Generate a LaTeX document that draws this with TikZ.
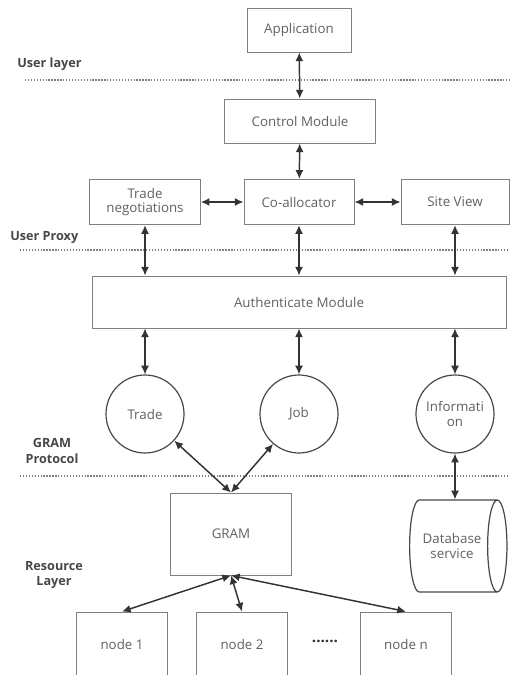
\documentclass[tikz,border=0pt]{standalone}
\usepackage{fontspec}
\setmainfont{Open Sans}
\usetikzlibrary{arrows.meta,shapes.geometric,positioning}
\definecolor{boxgray}{HTML}{808080}
\definecolor{txtgray}{HTML}{606060}
\definecolor{arrgray}{HTML}{333333}
\tikzset{line/.style={draw=arrgray, line width=1.1pt, {Latex[length=6.5pt,width=6pt]}-{Latex[length=6.5pt,width=6pt]}}}

\begin{document}
\begin{tikzpicture}[x=0.75pt, y=-0.75pt, font=\fontsize{10}{11}\selectfont]
\tikzstyle{block} = [rectangle, draw=boxgray, line width=0.7pt, text=txtgray, align=center, inner sep=1pt]
\tikzstyle{proto} = [circle, draw=arrgray!90, line width=0.9pt, text=txtgray, align=center, minimum size=58.5pt, inner sep=1pt]
\tikzstyle{layer} = [font=\fontsize{9.5}{11.5}\selectfont\bfseries, text=arrgray!90, align=center, inner sep=0pt]
\tikzstyle{sep} = [draw=boxgray, line width=0.9pt, dash pattern=on 1pt off 1.2pt]

\useasboundingbox (0,0) rectangle (510,675);

% layer separators
\path [sep] (25,80) -- (510,80);
\path [sep] (20,250) -- (510,250);
\path [sep] (20,476) -- (510,476);

\node [layer, anchor=west] (userlayer) at (17,64) {User layer};
\node [layer, anchor=west] (userproxy) at (10,237) {User Proxy};
\node [layer] (gramproto) at (52,451) {GRAM\\Protocol};
\node [layer] (reslayer) at (54,575) {Resource\\Layer};

% user side
\node [block, minimum width=78pt, minimum height=33pt] (app) at (299,30) {Application};
\node [block, minimum width=113pt, minimum height=33pt] (control) at (300,121) {Control Module};
\node [block, minimum width=82.5pt, minimum height=34pt] (coalloc) at (299,202) {Co-allocator};
\node [block, minimum width=83pt, minimum height=34pt] (tradeneg) at (145,202) {Trade\\negotiations};
\node [block, minimum width=81pt, minimum height=34pt] (siteview) at (455,202) {Site View};
\node [block, minimum width=310.5pt, minimum height=39pt] (auth) at (299,302) {Authenticate Module};

% protocols
\node [proto] (trade) at (145,414) {Trade};
\node [proto] (job) at (299,414) {Job};
\node [proto] (info) at (455,414) {Informati\\on};

% resources
\node [block, minimum width=91pt, minimum height=61.5pt] (gram) at (231,534) {GRAM};
\node [cylinder, draw=arrgray!90, line width=0.9pt, text=txtgray, align=center, minimum width=69pt, minimum height=73pt, aspect=0.7, inner sep=1pt] (db) at (452,546) {Database\\service};
\node [block, minimum width=68pt, minimum height=48pt] (node1) at (122,644) {node 1};
\node [block, minimum width=68pt, minimum height=48pt] (node2) at (242,644) {node 2};
\node [block, minimum width=68pt, minimum height=48pt] (noden) at (406,644) {node n};
\node [text=arrgray, font=\fontsize{11.5}{12}\selectfont\bfseries] (dots) at (325,641) {......};

\path [line] (app) -- (control);
\path [line] (control) -- (coalloc);
\path [line] (tradeneg) -- (coalloc);
\path [line] (coalloc) -- (siteview);
\path [line] (tradeneg) -- (tradeneg |- auth.north);
\path [line] (coalloc) -- (coalloc |- auth.north);
\path [line] (siteview) -- (siteview |- auth.north);
\path [line] (trade |- auth.south) -- (trade);
\path [line] (job |- auth.south) -- (job);
\path [line] (info |- auth.south) -- (info);
\path [line] (trade) -- (gram.north);
\path [line] (job) -- (gram.north);
\path [line] (info) -- (info |- db.north);
\path [line] (gram.south) -- (node1.north);
\path [line] (gram.south) -- (node2.north);
\path [line] (gram.south) -- (noden.north);

\end{tikzpicture}
\end{document}
